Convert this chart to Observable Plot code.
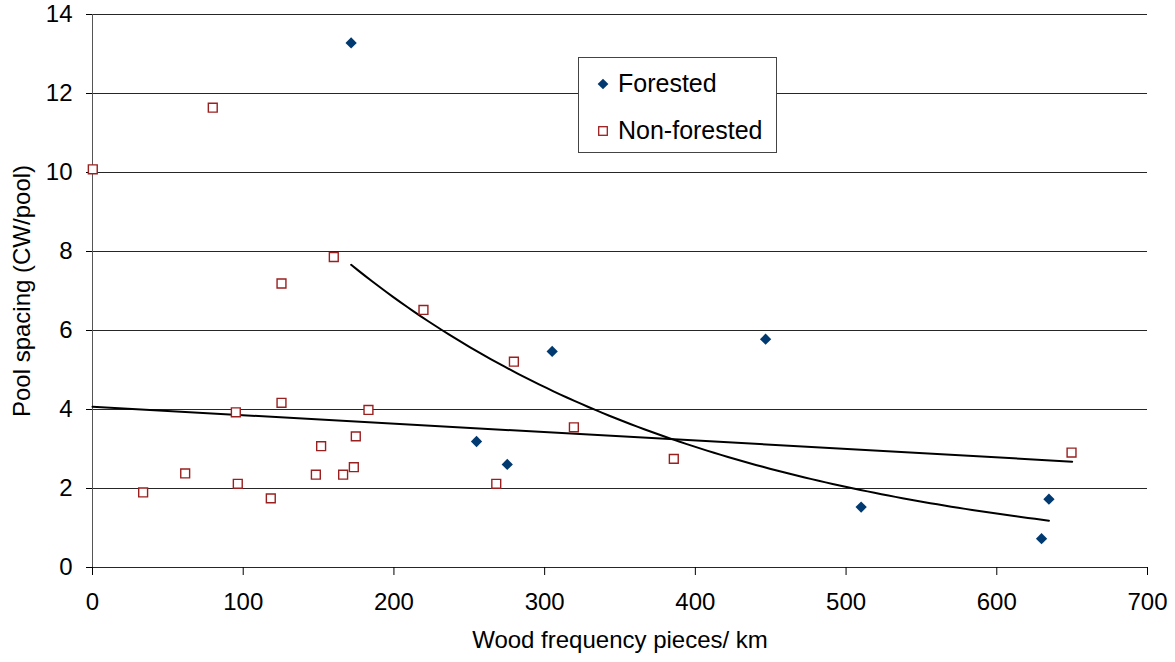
<!DOCTYPE html>
<html>
<head>
<meta charset="utf-8">
<script src="https://cdn.jsdelivr.net/npm/d3@7"></script>
<script src="https://cdn.jsdelivr.net/npm/@observablehq/plot@0.6"></script>
<style>
  html, body { margin: 0; padding: 0; background: #fff; }
  #wrap { position: relative; width: 1175px; height: 662px; font-family: "Liberation Sans", Arial, sans-serif; }
  #legend { position: absolute; left: 578px; top: 57px; width: 199px; height: 96px; border: 1px solid #444; background: #fff; box-sizing: border-box; }
  .item { position: absolute; left: 0; display: flex; align-items: center; font-size: 25px; color: #000; }
  .item svg { margin-left: 18px; margin-right: 9px; }
</style>
</head>
<body>
<div id="wrap">
  <div id="chart"></div>
  <div id="legend"></div>
</div>
<script>
// Forested sites (dark blue diamonds)
const forestedX = [171.6, 254.8, 275.2, 305.0, 446.6, 510.0, 634.6, 629.7];
const forestedY = [13.28, 3.19, 2.61, 5.47, 5.78, 1.53, 1.73, 0.73];

// Non-forested sites (hollow red squares)
const nonForestedX = [0.2, 79.8, 125.4, 160.1, 33.6, 61.5, 95.1, 96.4, 118.3, 125.4, 148.2, 151.7, 166.3, 173.4, 174.7, 183.1, 219.6, 279.6, 319.4, 267.9, 385.7, 649.6];
const nonForestedY = [10.08, 11.64, 7.19, 7.86, 1.90, 2.38, 3.93, 2.12, 1.75, 4.17, 2.35, 3.07, 2.35, 2.54, 3.32, 3.99, 6.52, 5.21, 3.55, 2.12, 2.75, 2.91];

// Linear trendline end points
const linearTrendX = [0, 650];
const linearTrendY = [4.07, 2.68];

// Axis ticks
const xTicks = [0, 100, 200, 300, 400, 500, 600, 700];
const yTicks = [0, 2, 4, 6, 8, 10, 12, 14];

const seriesNames = ["Forested", "Non-forested"];
const forestedColor = "#003a70";
const nonForestedColor = "#9a1f1f";

const forested = forestedX.map((x, i) => ({x, y: forestedY[i]}));
const nonForested = nonForestedX.map((x, i) => ({x, y: nonForestedY[i]}));
const linearTrend = linearTrendX.map((x, i) => ({x, y: linearTrendY[i]}));

// Exponential trendline fitted to the forested series (least squares on ln y)
const mx = d3.mean(forested, d => d.x);
const my = d3.mean(forested, d => Math.log(d.y));
const b = d3.sum(forested, d => (d.x - mx) * (Math.log(d.y) - my)) / d3.sum(forested, d => (d.x - mx) ** 2);
const a = Math.exp(my - b * mx);
const [x0, x1] = d3.extent(forested, d => d.x);
const expTrend = d3.range(0, 101).map(i => {
  const x = x0 + (x1 - x0) * i / 100;
  return {x, y: a * Math.exp(b * x)};
});

const chart = Plot.plot({
  width: 1175,
  height: 662,
  marginLeft: 92,
  marginRight: 28,
  marginTop: 14,
  marginBottom: 95,
  x: {domain: [0, 700]},
  y: {domain: [0, 14]},
  style: {fontFamily: "'Liberation Sans', Arial, sans-serif", fontSize: "24px", color: "#000", background: "#fff"},
  marks: [
    Plot.ruleY(yTicks, {stroke: "#000", strokeWidth: 1, strokeOpacity: 0.85}),
    Plot.ruleX([0], {stroke: "#555", strokeWidth: 1}),
    Plot.axisY({ticks: yTicks, tickSize: 6, tickPadding: 14, label: "Pool spacing (CW/pool)", labelAnchor: "center", labelArrow: "none", labelOffset: 80, fontSize: 24}),
    Plot.axisX({ticks: xTicks, tickSize: 8, tickPadding: 17, label: "Wood frequency pieces/ km", labelAnchor: "center", labelArrow: "none", labelOffset: 80, fontSize: 24}),
    Plot.line(linearTrend, {x: "x", y: "y", stroke: "#000", strokeWidth: 2}),
    Plot.line(expTrend, {x: "x", y: "y", stroke: "#000", strokeWidth: 2}),
    Plot.dot(forested, {x: "x", y: "y", symbol: "square", r: 4.5, rotate: 45, fill: forestedColor, stroke: "none"}),
    Plot.dot(nonForested, {x: "x", y: "y", symbol: "square", r: 5, fill: "#fff", stroke: nonForestedColor, strokeWidth: 1.4})
  ]
});
document.getElementById("chart").appendChild(chart);

// Legend
const legend = document.getElementById("legend");
const symbols = [
  `<svg width="12" height="12" viewBox="-6 -6 12 12"><rect x="-3.8" y="-3.8" width="7.6" height="7.6" transform="rotate(45)" fill="${forestedColor}"/></svg>`,
  `<svg width="12" height="12" viewBox="-6 -6 12 12"><rect x="-4.3" y="-4.3" width="8.6" height="8.6" fill="#fff" stroke="${nonForestedColor}" stroke-width="1.3"/></svg>`
];
seriesNames.forEach((name, i) => {
  const div = document.createElement("div");
  div.className = "item";
  div.style.top = (i === 0 ? 11 : 58) + "px";
  div.innerHTML = symbols[i] + `<span>${name}</span>`;
  legend.appendChild(div);
});
</script>
</body>
</html>
